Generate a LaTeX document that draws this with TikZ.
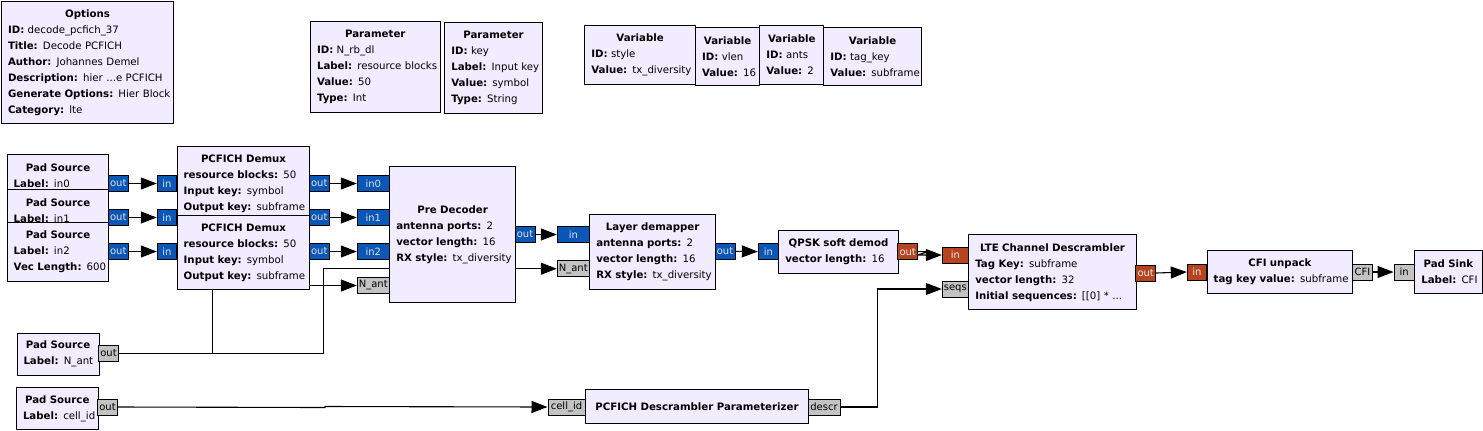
\documentclass[tikz,border=0pt]{standalone}
\usepackage{fontspec}
\setmainfont{DejaVu Sans}
\usetikzlibrary{arrows.meta}
\definecolor{blkfill}{HTML}{F1ECFF}
\definecolor{pblue}{HTML}{0A57B8}
\definecolor{porange}{HTML}{B5441F}
\definecolor{pgray}{HTML}{C3C3C3}
\pgfdeclarelayer{background}
\pgfsetlayers{background,main}
\newcommand\Ttl[1]{\null\hfill\textbf{#1}\hfill\null}
\newcommand\Kv[2]{\mbox{\textbf{#1:} #2}}
\newcommand\Blk[6]{\pgfmathsetmacro\blktw{#4-13}\node[blk,minimum width=#4bp,minimum height=#5bp,text width=\blktw bp] (#1) at (#2,#3) {#6};}
\tikzset{
  blk/.style={draw=black, fill=blkfill, line width=1bp, anchor=north west, inner xsep=6.5bp, inner ysep=0pt, align=left, font=\fontsize{10.2bp}{16bp}\selectfont},
  port/.style={draw=black, line width=1bp, inner sep=0pt, minimum height=16bp, font=\fontsize{10bp}{12bp}\selectfont},
  pb/.style={port, fill=pblue, text=white!88!black},
  po/.style={port, fill=porange, text=white!92!black},
  pg/.style={port, fill=pgray, text=black},
  conn/.style={line width=1.1bp, -{Triangle[length=16bp,width=12bp]}},
  wire/.style={line width=1.1bp}
}
\begin{document}
\begin{tikzpicture}[x=1bp,y=-1bp]
\useasboundingbox (0,0) rectangle (1483,430);
% parameters / variables
\Blk{opt}{1}{1}{172}{122}{\Ttl{Options}\\\Kv{ID}{decode\_pcfich\_37}\\\Kv{Title}{Decode PCFICH}\\\Kv{Author}{Johannes Demel}\\\Kv{Description}{hier ...e PCFICH}\\\Kv{Generate Options}{Hier Block}\\\Kv{Category}{lte}}
\Blk{p1}{310}{21}{129.5}{91}{\Ttl{Parameter}\\\Kv{ID}{N\_rb\_dl}\\\Kv{Label}{resource blocks}\\\Kv{Value}{50}\\\Kv{Type}{Int}}
\Blk{p2}{444.3}{22}{97.4}{91}{\Ttl{Parameter}\\\Kv{ID}{key}\\\Kv{Label}{Input key}\\\Kv{Value}{symbol}\\\Kv{Type}{String}}
\Blk{v1}{584.3}{25}{110.7}{59}{\Ttl{Variable}\\\Kv{ID}{style}\\\Kv{Value}{tx\_diversity}}
\Blk{v2}{695}{26.7}{64.3}{58.3}{\Ttl{Variable}\\\Kv{ID}{vlen}\\\Kv{Value}{16}}
\Blk{v3}{759.3}{25}{64}{59}{\Ttl{Variable}\\\Kv{ID}{ants}\\\Kv{Value}{2}}
\Blk{v4}{823.3}{26.7}{97.7}{58.3}{\Ttl{Variable}\\\Kv{ID}{tag\_key}\\\Kv{Value}{subframe}}
% flow blocks
\Blk{ps0}{6.7}{154}{101.6}{43}{\Ttl{Pad Source}\\\Kv{Label}{in0}}
\Blk{ps1}{6.7}{188.7}{101.6}{43}{\Ttl{Pad Source}\\\Kv{Label}{in1}}
\Blk{ps2}{6.7}{222}{101.6}{59}{\Ttl{Pad Source}\\\Kv{Label}{in2}\\\Kv{Vec Length}{600}}
\Blk{dm0}{176.7}{146}{132.6}{74}{\Ttl{PCFICH Demux}\\\Kv{resource blocks}{50}\\\Kv{Input key}{symbol}\\\Kv{Output key}{subframe}}
\Blk{dm2}{176.7}{214.7}{132.6}{74.3}{\Ttl{PCFICH Demux}\\\Kv{resource blocks}{50}\\\Kv{Input key}{symbol}\\\Kv{Output key}{subframe}}
\Blk{pd}{389.3}{166}{125.7}{136}{\Ttl{Pre Decoder}\\\Kv{antenna ports}{2}\\\Kv{vector length}{16}\\\Kv{RX style}{tx\_diversity}}
\Blk{ld}{589.3}{214.3}{125.7}{74.7}{\Ttl{Layer demapper}\\\Kv{antenna ports}{2}\\\Kv{vector length}{16}\\\Kv{RX style}{tx\_diversity}}
\Blk{qp}{778.3}{230}{119.4}{42.7}{\Ttl{QPSK soft demod}\\\Kv{vector length}{16}}
\Blk{lte}{968.3}{234.3}{167.4}{75}{\Ttl{LTE Channel Descrambler}\\\Kv{Tag Key}{subframe}\\\Kv{vector length}{32}\\\Kv{Initial sequences}{[[0] * ...}}
\Blk{cfi}{1206.7}{250}{145.6}{43.3}{\Ttl{CFI unpack}\\\Kv{tag key value}{subframe}}
\Blk{snk}{1414.3}{250}{67.4}{43.3}{\Ttl{Pad Sink}\\\Kv{Label}{CFI}}
\Blk{pn}{16.5}{332.7}{82}{42}{\Ttl{Pad Source}\\\Kv{Label}{N\_ant}}
\Blk{pc}{16}{386.7}{81.5}{42.3}{\Ttl{Pad Source}\\\Kv{Label}{cell\_id}}
\Blk{pp}{585}{389}{223}{34}{\Ttl{PCFICH Descrambler Parameterizer}}
% ports
\node[pb,minimum width=20bp] (ps0o) at (118.3,183.5) {out};
\node[pb,minimum width=20bp] (ps1o) at (118.3,217.5) {out};
\node[pb,minimum width=20bp] (ps2o) at (118.3,251.5) {out};
\node[pb,minimum width=19.4bp] (d0i) at (167,183.5) {in};
\node[pb,minimum width=19.4bp] (d1i) at (167,217.5) {in};
\node[pb,minimum width=19.4bp] (d2i) at (167,251.5) {in};
\node[pb,minimum width=20bp] (d0o) at (319.3,183.5) {out};
\node[pb,minimum width=20bp] (d1o) at (319.3,217.5) {out};
\node[pb,minimum width=20bp] (d2o) at (319.3,251.5) {out};
\node[pb,minimum width=32bp] (pdi0) at (373.3,183.5) {in0};
\node[pb,minimum width=32bp] (pdi1) at (373.3,217.5) {in1};
\node[pb,minimum width=32bp] (pdi2) at (373.3,251.5) {in2};
\node[pg,minimum width=32bp] (pdn) at (373.3,285.5) {N\_ant};
\node[pb,minimum width=20bp] (pdo) at (525,234.5) {out};
\node[pb,minimum width=32bp] (ldi) at (573.3,234.5) {in};
\node[pg,minimum width=32bp] (ldn) at (573.3,268.7) {N\_ant};
\node[pb,minimum width=20bp] (ldo) at (725,251.3) {out};
\node[pb,minimum width=20bp] (qi) at (768.3,251.6) {in};
\node[po,minimum width=20bp] (qo) at (907.7,251.6) {out};
\node[po,minimum width=26bp] (li) at (955.3,255) {in};
\node[pg,minimum width=26bp] (ls) at (955.3,289) {seqs};
\node[po,minimum width=20bp] (lo) at (1145.7,273) {out};
\node[po,minimum width=19.4bp] (ci) at (1197,272) {in};
\node[pg,minimum width=20.4bp] (co) at (1362.5,272) {CFI};
\node[pg,minimum width=20.3bp] (si) at (1404.2,272) {in};
\node[pg,minimum width=20bp] (pno) at (108.5,353.5) {out};
\node[pg,minimum width=20bp] (pco) at (107.5,407) {out};
\node[pg,minimum width=37bp] (ppi) at (566.5,407) {cell\_id};
\node[pg,minimum width=32bp] (ppo) at (824,407) {descr};
% connectors
\begin{pgfonlayer}{background}
\fill[white] (0,0) rectangle (1483,430);
\draw[conn] (ps0o.east) -- (d0i.west);
\draw[conn] (ps1o.east) -- (d1i.west);
\draw[conn] (ps2o.east) -- (d2i.west);
\draw[conn] (d0o.east) -- (pdi0.west);
\draw[conn] (d1o.east) -- (pdi1.west);
\draw[conn] (d2o.east) -- (pdi2.west);
\draw[conn] (pno.east) -- (212.3,353.5) -- (212.3,285.5) -- (pdn.west);
\draw[conn] (pno.east) -- (323.3,353.5) -- (323.3,268.7) -- (ldn.west);
\draw[conn] (pdo.east) -- (ldi.west);
\draw[conn] (ldo.east) -- (qi.west);
\draw[conn] (qo.east) -- ++(10,0) -- ([xshift=-24bp]li.west) -- (li.west);
\draw[conn] (lo.east) -- (ci.west);
\draw[conn] (co.east) -- (si.west);
\draw[conn] (pco.east) -- (325,407.5) -- (325,406.5) -- (ppi.west);
\draw[conn] (ppo.east) -- (877.7,407) -- (877.7,289) -- (ls.west);
\end{pgfonlayer}
\end{tikzpicture}
\end{document}
